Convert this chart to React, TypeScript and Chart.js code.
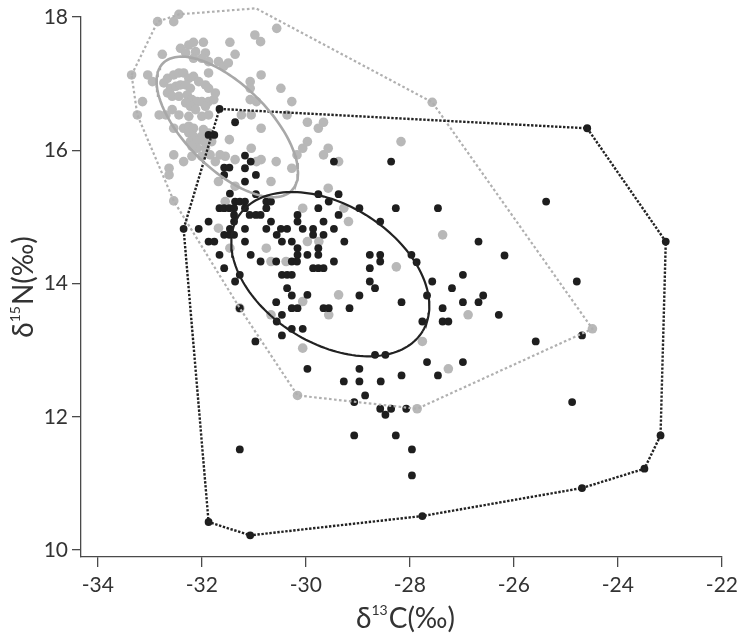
import React, { useEffect, useRef } from "react";
import { Chart, registerables } from "chart.js";
Chart.register(...registerables);

// Axis ticks
const xTicks = [-34, -32, -30, -28, -26, -24, -22];
const yTicks = [10, 12, 14, 16, 18];

// Group 1 (grey) δ13C, δ15N values
const greyPoints: number[][] = [
  [-33.35, 17.13], [-32.85, 17.93], [-32.54, 17.93], [-32.44, 18.04], [-30.96, 18.13], [-27.57, 16.72], [-24.49, 13.32],
  [-27.86, 12.12], [-30.16, 12.32], [-31.27, 13.63], [-32.54, 15.24], [-33.24, 16.53],
  [-30.56, 17.83], [-30.98, 17.73], [-30.87, 17.63], [-32.41, 17.53], [-32.25, 17.58], [-32.16, 17.62],
  [-31.97, 17.62], [-32.31, 17.46], [-32.12, 17.48], [-31.93, 17.46], [-32.16, 17.38], [-32.0, 17.38],
  [-31.87, 17.33], [-31.68, 17.33], [-31.58, 17.26], [-32.76, 17.44], [-31.46, 17.62], [-31.36, 17.44],
  [-33.04, 17.13], [-32.95, 17.03], [-32.73, 17.01], [-32.66, 17.08], [-32.54, 17.13], [-32.44, 17.16],
  [-32.35, 17.16], [-32.25, 17.08], [-32.16, 17.11], [-32.06, 17.03], [-31.93, 16.98], [-32.6, 16.93],
  [-32.5, 16.96], [-32.41, 16.98], [-32.31, 16.98], [-32.22, 16.93], [-32.66, 16.86], [-32.57, 16.81],
  [-32.44, 16.81], [-32.28, 16.83], [-32.19, 16.76], [-32.09, 16.73], [-32.0, 16.73], [-31.87, 16.73],
  [-31.77, 16.76], [-31.87, 16.93], [-31.74, 16.86], [-32.31, 16.71], [-32.22, 16.66], [-32.12, 16.61],
  [-31.93, 16.66], [-32.82, 16.53], [-32.69, 16.53], [-32.57, 16.61], [-32.44, 16.53], [-32.25, 16.51],
  [-32.0, 16.51], [-31.87, 16.53], [-33.14, 16.73], [-31.87, 17.16], [-31.49, 17.31],
  [-32.54, 16.33], [-32.35, 16.33], [-32.25, 16.36], [-32.16, 16.33], [-31.97, 16.31], [-32.25, 16.26],
  [-32.16, 16.21], [-32.0, 16.21], [-31.87, 16.26], [-32.22, 16.13], [-32.09, 16.13], [-31.93, 16.11],
  [-31.81, 16.13], [-32.09, 16.03], [-31.93, 16.03], [-31.47, 16.16],
  [-32.54, 15.93], [-32.35, 15.83], [-32.19, 15.91], [-32.0, 15.91], [-31.74, 15.83], [-31.55, 15.91],
  [-31.36, 15.86], [-32.63, 15.73], [-32.63, 15.63], [-31.05, 16.03], [-30.86, 15.86], [-30.57, 15.83],
  [-31.68, 15.53], [-31.36, 15.46], [-30.67, 15.53], [-30.86, 17.13], [-30.48, 16.93], [-31.07, 17.03],
  [-31.07, 16.93], [-31.07, 16.76], [-30.95, 16.73], [-31.24, 16.53], [-31.05, 16.53], [-30.86, 16.33],
  [-30.27, 16.73], [-30.36, 16.53], [-29.97, 16.42], [-29.76, 16.33], [-29.66, 16.42], [-29.97, 16.13],
  [-30.06, 16.03], [-30.17, 15.93], [-29.57, 16.03], [-29.66, 15.93], [-28.17, 16.13], [-30.95, 15.83],
  [-30.27, 15.73], [-29.37, 15.83], [-29.57, 15.43], [-30.06, 15.13], [-29.27, 15.13], [-32.19, 16.06],
  [-31.84, 15.93], [-31.65, 15.93], [-31.55, 15.23], [-29.18, 14.93], [-31.68, 14.83], [-31.46, 14.53],
  [-30.76, 14.53], [-30.67, 14.33], [-30.38, 14.33], [-29.97, 14.63], [-29.75, 14.63], [-28.26, 14.25],
  [-29.37, 13.83], [-30.06, 13.73], [-29.56, 13.53], [-30.67, 13.53], [-27.37, 14.73], [-26.88, 13.53],
  [-30.06, 13.03], [-27.76, 13.13], [-27.26, 12.72],
];

// Group 2 (black) δ13C, δ15N values
const blackPoints: number[][] = [
  [-31.66, 16.62], [-24.59, 16.33], [-23.08, 14.63], [-23.18, 11.72], [-23.49, 11.22], [-24.69, 10.93],
  [-27.76, 10.51], [-31.07, 10.22], [-31.87, 10.42], [-32.35, 14.82],
  [-31.36, 16.42], [-31.87, 16.23], [-31.76, 16.23], [-31.17, 15.92], [-31.06, 15.83], [-31.57, 15.74],
  [-31.47, 15.74], [-31.17, 15.73], [-31.57, 15.63], [-30.96, 15.63], [-31.17, 15.53], [-29.46, 15.83],
  [-28.36, 15.83], [-31.46, 15.35], [-30.96, 15.34], [-29.76, 15.34], [-29.37, 15.34], [-31.36, 15.23],
  [-31.27, 15.23], [-31.17, 15.23], [-30.76, 15.23], [-30.67, 15.23], [-29.56, 15.23], [-31.66, 15.13],
  [-31.57, 15.13], [-31.47, 15.13], [-31.38, 15.13], [-31.17, 15.13], [-30.76, 15.13], [-29.76, 15.13],
  [-28.97, 15.13], [-28.27, 15.13], [-27.46, 15.13], [-25.38, 15.23], [-31.08, 15.03], [-30.96, 15.03],
  [-30.87, 15.03], [-31.38, 15.03], [-30.16, 15.03], [-29.37, 15.03], [-31.87, 14.93], [-31.38, 14.93],
  [-30.67, 14.93], [-30.16, 14.93], [-29.66, 14.93], [-28.57, 14.93], [-32.06, 14.82], [-31.46, 14.82],
  [-31.17, 14.82], [-30.76, 14.82], [-30.48, 14.82], [-30.36, 14.82], [-30.06, 14.82], [-29.86, 14.82],
  [-29.46, 14.82], [-31.57, 14.73], [-31.47, 14.73], [-31.38, 14.73], [-30.56, 14.73], [-29.86, 14.73],
  [-29.66, 14.73], [-31.87, 14.63], [-31.76, 14.63], [-31.17, 14.63], [-30.46, 14.63], [-30.27, 14.63],
  [-29.26, 14.63], [-26.68, 14.63], [-31.66, 14.43], [-31.06, 14.43], [-30.16, 14.53], [-29.76, 14.53],
  [-30.16, 14.43], [-29.97, 14.43], [-29.76, 14.43], [-28.77, 14.43], [-28.57, 14.43], [-27.97, 14.43],
  [-26.18, 14.42], [-31.57, 14.23], [-30.87, 14.33], [-30.57, 14.33], [-30.27, 14.33], [-30.17, 14.33],
  [-29.46, 14.33], [-28.57, 14.33], [-27.87, 14.32], [-29.86, 14.23], [-29.76, 14.23], [-29.66, 14.23],
  [-28.77, 14.23], [-31.27, 14.13], [-30.46, 14.13], [-30.36, 14.13], [-30.27, 14.13], [-26.98, 14.13],
  [-31.36, 14.03], [-28.77, 14.03], [-27.57, 14.03], [-24.79, 14.03], [-30.36, 13.93], [-28.67, 13.93],
  [-27.19, 13.93], [-30.27, 13.82], [-29.97, 13.83], [-28.97, 13.82], [-27.67, 13.82], [-26.59, 13.82],
  [-28.16, 13.72], [-30.57, 13.72], [-26.98, 13.72], [-26.68, 13.72], [-30.27, 13.63], [-30.16, 13.63],
  [-29.66, 13.63], [-29.56, 13.63], [-29.16, 13.63], [-31.27, 13.63], [-27.37, 13.63], [-30.46, 13.53],
  [-26.29, 13.53], [-30.56, 13.43], [-27.76, 13.43], [-27.37, 13.43], [-27.26, 13.43], [-30.27, 13.32],
  [-30.06, 13.32], [-30.46, 13.22], [-24.69, 13.22], [-25.58, 13.13], [-30.97, 13.13], [-28.67, 12.93],
  [-28.47, 12.93], [-27.67, 12.82], [-26.98, 12.82], [-29.97, 12.72], [-28.97, 12.72], [-28.16, 12.62],
  [-27.46, 12.62], [-29.27, 12.53], [-28.97, 12.53], [-28.56, 12.53], [-28.86, 12.32], [-29.07, 12.22],
  [-28.57, 12.12], [-28.36, 12.12], [-28.07, 12.12], [-28.47, 12.03], [-24.88, 12.22], [-29.07, 11.72],
  [-28.27, 11.72], [-31.27, 11.51], [-27.96, 11.51], [-27.96, 11.12],
];

// Convex hulls (vertex order)
const greyHull: number[][] = [
  [-33.35, 17.13], [-32.85, 17.93], [-32.44, 18.04], [-30.96, 18.13], [-27.57, 16.72], [-24.49, 13.32],
  [-27.86, 12.12], [-30.16, 12.32], [-31.27, 13.63], [-32.54, 15.24], [-33.24, 16.53],
];
const blackHull: number[][] = [
  [-31.66, 16.62], [-24.59, 16.33], [-23.08, 14.63], [-23.18, 11.72], [-23.49, 11.22], [-24.69, 10.93],
  [-27.76, 10.51], [-31.07, 10.22], [-31.87, 10.42], [-32.35, 14.82],
];

// Standard ellipses: centre, semi-axis vector 1, semi-axis vector 2
const greyEllipseCentre = [-31.51, 16.35];
const greyEllipseAxisA = [1.24, -0.953];
const greyEllipseAxisB = [-0.557, -0.452];
const blackEllipseCentre = [-29.53, 14.14];
const blackEllipseAxisA = [1.777, -0.854];
const blackEllipseAxisB = [-0.685, -0.889];

function ellipsePts(c: number[], a: number[], b: number[]) {
  const out: { x: number; y: number }[] = [];
  const n = 160;
  for (let i = 0; i <= n; i++) {
    const t = (2 * Math.PI * i) / n;
    out.push({
      x: c[0] + Math.cos(t) * a[0] + Math.sin(t) * b[0],
      y: c[1] + Math.cos(t) * a[1] + Math.sin(t) * b[1],
    });
  }
  return out;
}
const toXY = (arr: number[][]) => arr.map((p) => ({ x: p[0], y: p[1] }));
const closed = (arr: number[][]) => toXY([...arr, arr[0]]);

const FONT = "Lato, 'DejaVu Sans', sans-serif";
const TEXT = "#333333";
const AXIS = "#4a4a4a";

function drawLabel(ctx: CanvasRenderingContext2D, pre: string, sup: string, post: string, cx: number, base: number) {
  const big = `28px ${FONT}`;
  const small = `14px ${FONT}`;
  ctx.font = big;
  const w1 = ctx.measureText(pre).width;
  const w3 = ctx.measureText(post).width;
  ctx.font = small;
  const w2 = ctx.measureText(sup).width;
  let x = cx - (w1 + w2 + w3 + 1) / 2;
  ctx.textAlign = "left";
  ctx.textBaseline = "alphabetic";
  ctx.font = big;
  ctx.fillText(pre, x, base);
  x += w1;
  ctx.font = small;
  ctx.fillText(sup, x, base - 13);
  x += w2 + 1;
  ctx.font = big;
  ctx.fillText(post, x, base);
}

const titlesPlugin = {
  id: "axisTitles",
  afterDraw(chart: any) {
    const ctx = chart.ctx as CanvasRenderingContext2D;
    const { left, right, top, bottom } = chart.chartArea;
    ctx.save();
    ctx.fillStyle = TEXT;
    drawLabel(ctx, "δ", "13", "C(‰)", (left + right) / 2 + 4, 628);
    ctx.translate(33, (top + bottom) / 2);
    ctx.rotate(-Math.PI / 2);
    drawLabel(ctx, "δ", "15", "N(‰)", 0, 0);
    ctx.restore();
  },
};

export default function App() {
  const ref = useRef<HTMLCanvasElement>(null);
  useEffect(() => {
    if (!ref.current) return;
    const chart = new Chart(ref.current, {
      type: "scatter",
      data: {
        datasets: [
          {
            label: "black ellipse",
            data: ellipsePts(blackEllipseCentre, blackEllipseAxisA, blackEllipseAxisB),
            showLine: true,
            borderColor: "#222222",
            borderWidth: 2.2,
            pointRadius: 0,
            clip: false,
            order: 0,
          } as any,
          {
            label: "grey ellipse",
            data: ellipsePts(greyEllipseCentre, greyEllipseAxisA, greyEllipseAxisB),
            showLine: true,
            borderColor: "#a8a8a8",
            borderWidth: 2.6,
            pointRadius: 0,
            clip: false,
            order: 1,
          },
          {
            label: "black hull",
            data: closed(blackHull),
            showLine: true,
            borderColor: "#222222",
            borderWidth: 2.4,
            borderDash: [2.4, 1.6],
            pointRadius: 0,
            clip: false,
            order: 2,
          },
          {
            label: "grey hull",
            data: closed(greyHull),
            showLine: true,
            borderColor: "#b0b0b0",
            borderWidth: 2.2,
            borderDash: [2.6, 2.4],
            pointRadius: 0,
            clip: false,
            order: 3,
          },
          {
            label: "black",
            data: toXY(blackPoints),
            backgroundColor: "#1e1e1e",
            borderWidth: 0,
            pointRadius: 3.9,
            clip: false,
            order: 4,
          },
          {
            label: "grey",
            data: toXY(greyPoints),
            backgroundColor: "#b8b8b8",
            borderWidth: 0,
            pointRadius: 4.8,
            clip: false,
            order: 5,
          },
        ],
      },
      options: {
        responsive: false,
        animation: false,
        events: [],
        layout: { padding: { left: 0, top: 17, right: 15, bottom: 0 } },
        plugins: { legend: { display: false }, tooltip: { enabled: false } },
        scales: {
          x: {
            type: "linear",
            min: -34.323,
            max: -22,
            afterBuildTicks: (s: any) => {
              s.ticks = xTicks.map((v) => ({ value: v }));
            },
            afterFit: (s: any) => {
              s.height = 80;
            },
            ticks: {
              autoSkip: false,
              maxRotation: 0,
              padding: 6,
              color: TEXT,
              font: { family: FONT, size: 21 },
              callback: (v: any) => String(v),
            },
            grid: { drawOnChartArea: false, drawTicks: true, tickLength: 10, color: AXIS, lineWidth: 1.3 },
            border: { display: true, color: AXIS, width: 1.3 },
          },
          y: {
            type: "linear",
            min: 9.895,
            max: 18,
            afterBuildTicks: (s: any) => {
              s.ticks = yTicks.map((v) => ({ value: v }));
            },
            afterFit: (s: any) => {
              s.width = 81;
            },
            ticks: {
              autoSkip: false,
              padding: 4,
              color: TEXT,
              font: { family: FONT, size: 21 },
              callback: (v: any) => String(v),
            },
            grid: { drawOnChartArea: false, drawTicks: true, tickLength: 9, color: AXIS, lineWidth: 1.3 },
            border: { display: true, color: AXIS, width: 1.3 },
          },
        },
      },
      plugins: [titlesPlugin],
    });
    return () => chart.destroy();
  }, []);
  return (
    <canvas
      ref={ref}
      width={744}
      height={637}
      style={{ position: "absolute", left: 0, top: 0, width: 744, height: 637, background: "#fff" }}
    />
  );
}
